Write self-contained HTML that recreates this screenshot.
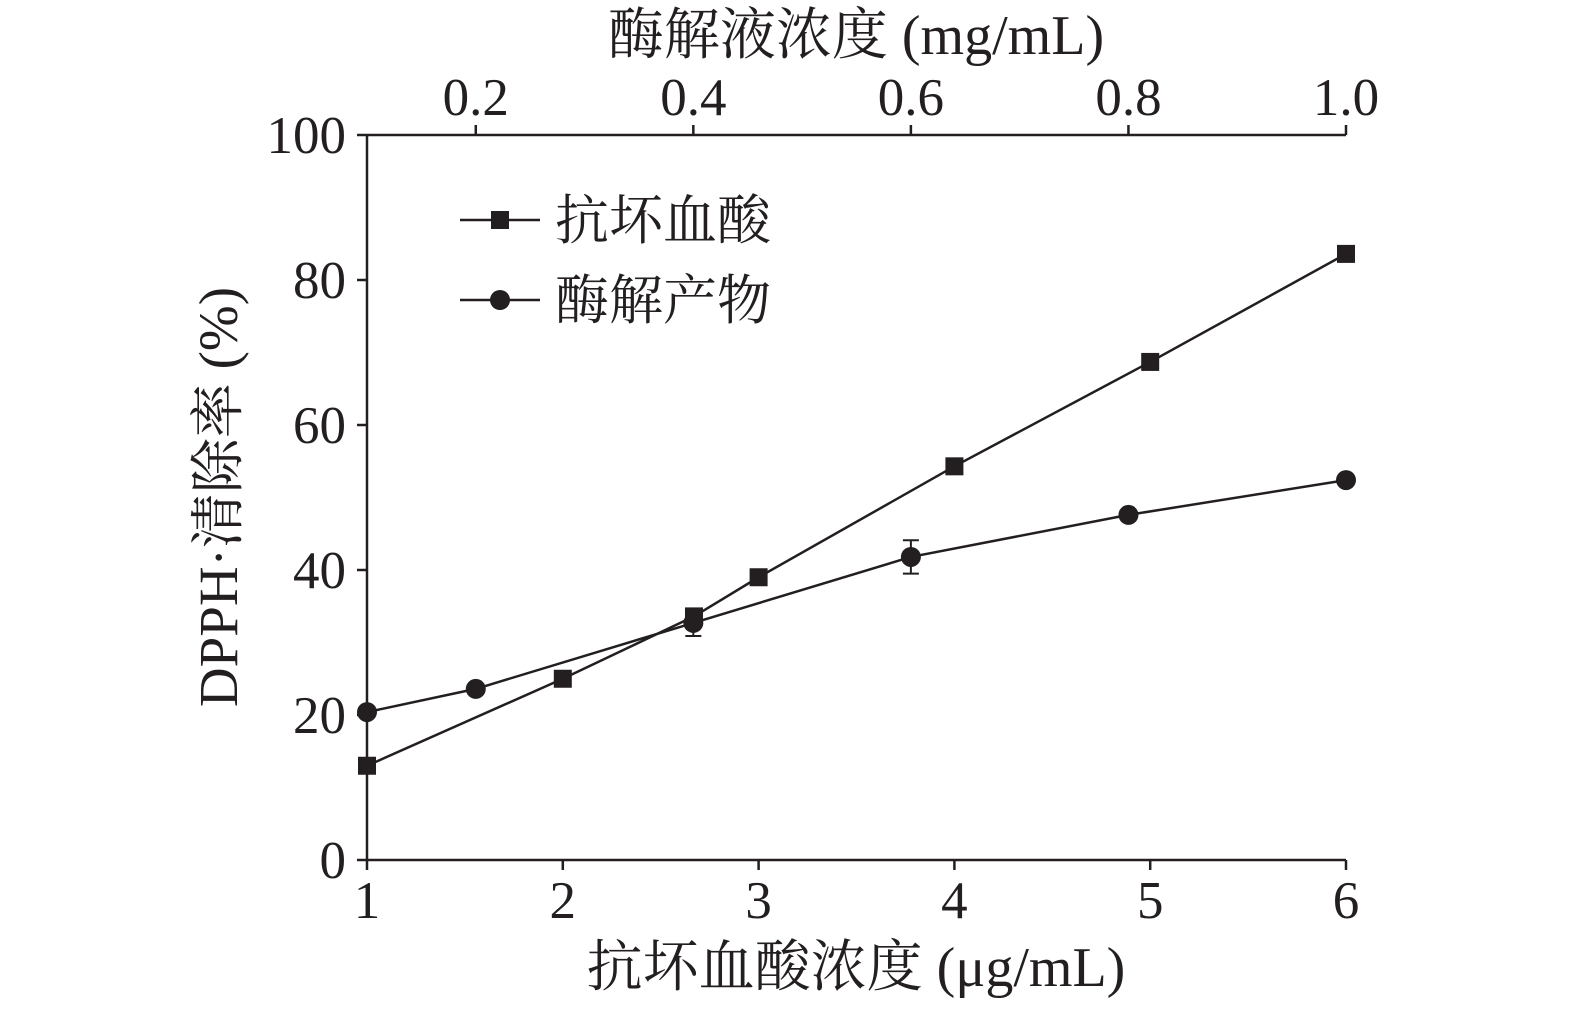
<!DOCTYPE html>
<html><head><meta charset="utf-8"><style>
html,body{margin:0;padding:0;background:#fff;}
svg{display:block;font-family:"Liberation Serif","Noto Serif CJK SC",serif;}
</style></head><body>
<svg id="chart" width="1575" height="1014" viewBox="0 0 1575 1014" xmlns="http://www.w3.org/2000/svg"></svg>
<script>
const bottomTicks=[1,2,3,4,5,6];
const topTicks=[0.2,0.4,0.6,0.8,1.0];
const topTickLabels=["0.2","0.4","0.6","0.8","1.0"];
const yTicks=[0,20,40,60,80,100];
const ascX=[1,2,2.67,3,4,5,6];
const ascY=[13.0,25.0,33.6,39.0,54.3,68.7,83.6];
const ascErr=[0,0,1.0,0,0,0,0];
const enzX=[0.1,0.2,0.4,0.6,0.8,1.0];
const enzY=[20.4,23.6,32.7,41.8,47.6,52.4];
const enzErr=[0,0,1.8,2.3,0,0];

const NS="http://www.w3.org/2000/svg";
const svg=document.getElementById('chart');
const X0=367,X1=1346,YB=860,YT=135;
const xB=v=>X0+(v-1)/5*(X1-X0);
const xT=v=>X0+(v-0.1)/0.9*(X1-X0);
const yS=v=>YB-v/100*(YB-YT);
function mk(tag,attrs,parent){const e=document.createElementNS(NS,tag);for(const k in attrs)e.setAttribute(k,attrs[k]);(parent||svg).appendChild(e);return e;}
function txt(s,attrs){const e=mk('text',Object.assign({fill:'#231f20','font-size':53},attrs));e.textContent=s;return e;}

const axes=mk('g',{stroke:'#231f20','stroke-width':2.5,fill:'none'});


mk('line',{x1:X0,y1:YT,x2:X0,y2:YB},axes);
mk('line',{x1:X0,y1:YB,x2:X1,y2:YB},axes);
mk('line',{x1:X0,y1:YT,x2:X1,y2:YT},axes);
bottomTicks.forEach(v=>{
  mk('line',{x1:xB(v),y1:YB,x2:xB(v),y2:YB+10},axes);
  const t=txt(String(v),{x:xB(v),y:918,'text-anchor':'middle'});
  
  
});
topTicks.forEach((v,i)=>{
  mk('line',{x1:xT(v),y1:YT,x2:xT(v),y2:YT-10},axes);
  const t=txt(topTickLabels[i],{x:xT(v),y:115,'text-anchor':'middle'});
  
  
});
yTicks.forEach(v=>{
  mk('line',{x1:X0,y1:yS(v),x2:X0-10,y2:yS(v)},axes);
  const t=txt(String(v),{x:346,y:yS(v)+18,'text-anchor':'end'});
  
  
});
let t=txt('抗坏血酸浓度 (μg/mL)',{x:856,y:986,'text-anchor':'middle','font-size':56});


t=txt('酶解液浓度 (mg/mL)',{x:856,y:54,'text-anchor':'middle','font-size':56});


t=txt('DPPH·清除率 (%)',{x:0,y:0,'text-anchor':'middle','font-size':55,transform:'translate(237,497) rotate(-90)'});



function series(xs,ys,errs,xf,marker,name){
  const g=mk('g',{});
  
  
  mk('polyline',{points:xs.map((x,i)=>xf(x)+','+yS(ys[i])).join(' '),fill:'none',stroke:'#231f20','stroke-width':2.5},g);
  xs.forEach((x,i)=>{
    const cx=xf(x),cy=yS(ys[i]);
    if(errs[i]>0){
      const a=yS(ys[i]+errs[i]),b=yS(ys[i]-errs[i]);
      mk('path',{d:`M${cx},${a}V${b}M${cx-8},${a}H${cx+8}M${cx-8},${b}H${cx+8}`,stroke:'#231f20','stroke-width':2,fill:'none'},g);
    }
    let m;
    if(marker==='square') m=mk('rect',{x:cx-9,y:cy-9,width:18,height:18,fill:'#231f20'},g);
    else m=mk('circle',{cx:cx,cy:cy,r:10,fill:'#231f20'},g);
    
    
  });
}
series(ascX,ascY,ascErr,xB,'square','ascorbic-acid-series');
series(enzX,enzY,enzErr,xT,'circle','hydrolysate-series');

const lg=mk('g',{});


mk('line',{x1:460,y1:220,x2:540,y2:220,stroke:'#231f20','stroke-width':2.5},lg);
mk('rect',{x:491,y:211,width:18,height:18,fill:'#231f20'},lg);
mk('line',{x1:460,y1:300,x2:540,y2:300,stroke:'#231f20','stroke-width':2.5},lg);
mk('circle',{cx:500,cy:300,r:10,fill:'#231f20'},lg);
t=txt('抗坏血酸',{x:555,y:239,'font-size':54});


t=txt('酶解产物',{x:555,y:319,'font-size':54});


</script>
</body></html>
